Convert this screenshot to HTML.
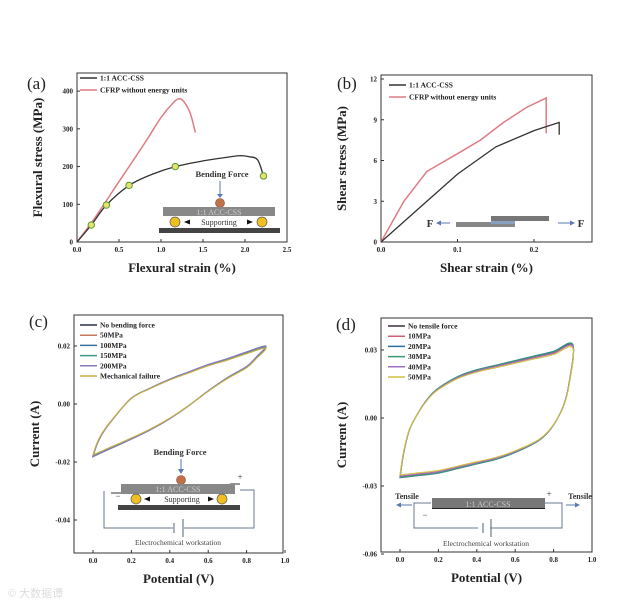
<!DOCTYPE html>
<html><head><meta charset="utf-8"><style>
html,body{margin:0;padding:0;background:#fff;}
svg{display:block;font-family:"Liberation Serif",serif;}
.tk{font-size:7px;font-weight:bold;fill:#222;}
.at{font-size:13px;font-weight:bold;fill:#222;}
.lg{font-size:7.5px;font-weight:bold;fill:#222;}
.pl{font-size:17px;fill:#222;}
</style></head><body>
<svg id="fig" width="623" height="606" viewBox="0 0 623 606">
<text x="8" y="597" font-family="Liberation Sans, Noto Sans CJK SC, sans-serif" font-size="11" fill="#ddd">© 大数据谭</text>
</svg>
<script>
// ---- Panel (a) data ----
const aStrainACC=[0,0.17,0.35,0.62,0.9,1.17,1.5,1.8,1.95,2.05,2.15,2.22];
const aStressACC=[0,45,98,150,180,200,215,225,229,226,218,175];
const aMarkIdx=[1,2,3,5,11];
const aStrainCF=[0,0.2,0.5,0.8,1.0,1.15,1.22,1.28,1.35,1.41];
const aStressCF=[0,60,160,260,330,370,380,370,340,290];
const aXTicks=["0.0","0.5","1.0","1.5","2.0","2.5"];
const aYTicks=["0","100","200","300","400"];
// ---- Panel (b) data ----
const bStrainACC=[0,0.05,0.1,0.15,0.2,0.23,0.233,0.233];
const bStressACC=[0,2.5,5.0,7.0,8.2,8.75,8.8,7.9];
const bStrainCF=[0,0.03,0.06,0.1,0.13,0.16,0.19,0.216,0.216];
const bStressCF=[0,3,5.2,6.5,7.5,8.8,9.9,10.6,8.0];
const bXTicks=["0.0","0.1","0.2"];
const bYTicks=["0","3","6","9","12"];
// ---- Panel (c) data ----
const cPot=[0,0.02,0.05,0.1,0.2,0.3,0.4,0.5,0.6,0.7,0.8,0.9,0.85,0.8,0.7,0.6,0.5,0.4,0.3,0.2,0.1,0.05,0];
const cCur=[-0.018,-0.014,-0.010,-0.0055,0.002,0.0055,0.0085,0.011,0.0135,0.0155,0.0178,0.0198,0.016,0.0128,0.009,0.0045,-0.0005,-0.005,-0.0088,-0.012,-0.015,-0.0165,-0.018];
const cSeries=["No bending force","50MPa","100MPa","150MPa","200MPa","Mechanical failure"];
const cScale=[1.0,0.99,1.01,0.985,1.005,0.975];
const cXTicks=["0.0","0.2","0.4","0.6","0.8","1.0"];
const cYTicks=["-0.04","-0.02","0.00","0.02"];
// ---- Panel (d) data ----
const dPot=[0,0.02,0.05,0.1,0.15,0.2,0.3,0.4,0.5,0.6,0.7,0.8,0.9,0.88,0.85,0.8,0.75,0.7,0.6,0.5,0.4,0.3,0.2,0.1,0];
const dCur=[-0.026,-0.015,-0.005,0.003,0.009,0.013,0.018,0.021,0.023,0.025,0.027,0.029,0.032,0.015,0.005,-0.003,-0.008,-0.011,-0.015,-0.018,-0.020,-0.022,-0.024,-0.025,-0.026];
const dSeries=["No tensile force","10MPa","20MPa","30MPa","40MPa","50MPa"];
const dScale=[1.0,0.985,1.015,1.01,0.99,0.965];
const dXTicks=["0.0","0.2","0.4","0.6","0.8","1.0"];
const dYTicks=["-0.06","-0.03","0.00","0.03"];

const NS="http://www.w3.org/2000/svg";
const svg=document.getElementById('fig');
function mk(tag,at,parent,txt){const e=document.createElementNS(NS,tag);for(const k in at)e.setAttribute(k,at[k]);if(txt!==undefined)e.textContent=txt;(parent||svg).appendChild(e);return e;}
function lin(d0,d1,r0,r1){return v=>r0+(v-d0)/(d1-d0)*(r1-r0);}
function pathOf(xs,ys,sx,sy){return xs.map((x,i)=>(i?'L':'M')+sx(x).toFixed(1)+' '+sy(ys[i]).toFixed(1)).join(' ');}
function smoothOf(xs,ys,sx,sy){
  const P=xs.map((x,i)=>[sx(x),sy(ys[i])]);let d='M'+P[0][0].toFixed(1)+' '+P[0][1].toFixed(1);
  for(let i=0;i<P.length-1;i++){const p0=P[i-1]||P[i],p1=P[i],p2=P[i+1],p3=P[i+2]||P[i+1];
    const c1=[p1[0]+(p2[0]-p0[0])/6,p1[1]+(p2[1]-p0[1])/6],c2=[p2[0]-(p3[0]-p1[0])/6,p2[1]-(p3[1]-p1[1])/6];
    d+=` C${c1[0].toFixed(1)} ${c1[1].toFixed(1)} ${c2[0].toFixed(1)} ${c2[1].toFixed(1)} ${p2[0].toFixed(1)} ${p2[1].toFixed(1)}`;}
  return d;}

function frame(name,L,T,R,B,sx,sy,xt,yt,xlab,ylab,plab,plx,ply){
  const g=mk('g',{});
  
  
  const r=mk('rect',{x:L,y:T,width:R-L,height:B-T,fill:'none',stroke:'#333','stroke-width':1},g);
  
  xt.forEach(t=>{const x=sx(parseFloat(t));mk('line',{x1:x,y1:B,x2:x,y2:B-3,stroke:'#333'},g);
    const e=mk('text',{x:x,y:B+10,'text-anchor':'middle',class:'tk'},g,t);
    });
  yt.forEach(t=>{const y=sy(parseFloat(t));mk('line',{x1:L,y1:y,x2:L+3,y2:y,stroke:'#333'},g);
    const e=mk('text',{x:L-4,y:y+2.5,'text-anchor':'end',class:'tk'},g,t);
    });
  const xl=mk('text',{x:(L+R)/2,y:B+30,'text-anchor':'middle',class:'at'},g,xlab);
  
  const cx=L-35,cy=(T+B)/2;
  const yl=mk('text',{x:cx,y:cy,'text-anchor':'middle',class:'at',transform:`rotate(-90 ${cx} ${cy})`},g,ylab);
  
  const p=mk('text',{x:plx,y:ply,class:'pl'},g,plab);
  
  return g;
}
function legend(g,x,y,dy,items,colors){
  items.forEach((s,i)=>{const yy=y+i*dy;
    mk('line',{x1:x,y1:yy,x2:x+17,y2:yy,stroke:colors[i],'stroke-width':1.5},g);
    const t=mk('text',{x:x+20,y:yy+2.5,class:'lg'},g,s);
    });
}
function txt(g,x,y,s,sz,fill,bold,name){const t=mk('text',{x:x,y:y,'text-anchor':'middle','font-size':sz,fill:fill,'font-weight':bold?'bold':'normal'},g,s);
  return t;}
const BLK='#333',RED='#e07a82',BLUE='#5a7ab0';

// ---- (a) ----
{const L=77,T=73,R=287,B=242;const sx=lin(0,2.5,L,R),sy=lin(0,448,B,T);
 const g=frame('panel-a-flexural',L,T,R,B,sx,sy,aXTicks,aYTicks,'Flexural strain (%)','Flexural stress (MPa)','(a)',27,89);
 const l1=mk('path',{d:smoothOf(aStrainCF,aStressCF,sx,sy),fill:'none',stroke:RED,'stroke-width':1.5},g);
 
 const l2=mk('path',{d:smoothOf(aStrainACC,aStressACC,sx,sy),fill:'none',stroke:BLK,'stroke-width':1.3},g);
 
 aMarkIdx.forEach(i=>{const c=mk('circle',{cx:sx(aStrainACC[i]),cy:sy(aStressACC[i]),r:3.2,fill:'#e8e070',stroke:'#5a9a30','stroke-width':1},g);
   });
 legend(g,80,78,12,['1:1 ACC-CSS','CFRP without energy units'],[BLK,RED]);
 txt(g,222,177,'Bending Force',8.5,'#333',true,'bending-force-label');
 mk('line',{x1:220,y1:181,x2:220,y2:195,stroke:BLUE,'stroke-width':1},g);
 mk('path',{d:'M217 194 L223 194 L220 198 Z',fill:BLUE},g);
 mk('circle',{cx:220,cy:203,r:4.5,fill:'#c0704a',stroke:'#8a4a30','stroke-width':.6},g);
 mk('rect',{x:163,y:207,width:112,height:9,fill:'#888'},g);
 txt(g,219,215,'1:1 ACC-CSS',8,'#ccc',false,'specimen-label');
 mk('circle',{cx:175,cy:222,r:5,fill:'#f0c020',stroke:'#555','stroke-width':.7},g);
 mk('circle',{cx:262,cy:222,r:5,fill:'#f0c020',stroke:'#555','stroke-width':.7},g);
 txt(g,219,225,'Supporting',8,'#333',false,'supporting-label');
 mk('path',{d:'M184 222 L190 219.5 L190 224.5 Z M253 222 L247 219.5 L247 224.5 Z',fill:'#111'},g);
 mk('rect',{x:159,y:228,width:121,height:5,fill:'#444'},g);
}
// ---- (b) ----
{const L=381,T=75,R=592,B=242;const sx=lin(0,0.2,L,534),sy=lin(0,12,B,79);
 const g=frame('panel-b-shear',L,T,R,B,sx,sy,bXTicks,bYTicks,'Shear strain (%)','Shear stress (MPa)','(b)',337,89);
 const l1=mk('path',{d:pathOf(bStrainCF,bStressCF,sx,sy),fill:'none',stroke:RED,'stroke-width':1.5},g);
 
 const l2=mk('path',{d:pathOf(bStrainACC,bStressACC,sx,sy),fill:'none',stroke:BLK,'stroke-width':1.3},g);
 
 legend(g,389,85,12,['1:1 ACC-CSS','CFRP without energy units'],[BLK,RED]);
 mk('rect',{x:491,y:216,width:58,height:5,fill:'#777'},g);
 mk('rect',{x:456,y:222,width:59,height:5,fill:'#888'},g);
 mk('rect',{x:491,y:221,width:24,height:3,fill:'#8aa0c0'},g);
 txt(g,430,227,'F',11,'#333',true,'force-left-label');
 txt(g,581,227,'F',11,'#333',true,'force-right-label');
 mk('line',{x1:438,y1:223,x2:450,y2:223,stroke:BLUE},g);
 mk('path',{d:'M436 223 L441 220.5 L441 225.5 Z M575 223 L570 220.5 L570 225.5 Z',fill:BLUE},g);
 mk('line',{x1:558,y1:223,x2:571,y2:223,stroke:BLUE},g);
}
// ---- (c) ----
const cColors=['#2b2f4a','#c87a5a','#3a6fa0','#3a9a80','#8a78c0','#c8b040'];
{const L=74,T=315,R=283,B=553;const sx=lin(0,1,93,285),sy=lin(0,0.02,404,346);
 const g=frame('panel-c-cv-bending',L,T,R,B,sx,sy,cXTicks,cYTicks,'Potential (V)','Current (A)','(c)',29,327);
 cSeries.forEach((s,k)=>{const ys=cCur.map(v=>v*cScale[k]);
   const p=mk('path',{d:smoothOf(cPot,ys,sx,sy)+'Z',fill:'none',stroke:cColors[k],'stroke-width':1.1},g);
   });
 legend(g,80,325,10.2,cSeries,cColors);
 txt(g,180,455,'Bending Force',8.5,'#333',true,'bending-force-label');
 mk('line',{x1:181,y1:459,x2:181,y2:470,stroke:BLUE},g);
 mk('path',{d:'M178 469 L184 469 L181 474 Z',fill:BLUE},g);
 mk('circle',{cx:181,cy:480,r:4.5,fill:'#c0704a',stroke:'#8a4a30','stroke-width':.6},g);
 mk('path',{d:'M104 491 L104 528 L173 528 M184 528 L254 528 L254 490 L240 490',fill:'none',stroke:'#6a7a90','stroke-width':1},g);
 mk('line',{x1:111,y1:493,x2:122,y2:493,stroke:'#333'},g);
 mk('line',{x1:230,y1:484,x2:240,y2:484,stroke:'#333'},g);
 mk('rect',{x:121,y:484,width:114,height:10,fill:'#888'},g);
 txt(g,178,492,'1:1 ACC-CSS',8,'#ccc',false,'specimen-label');
 txt(g,240,480,'+',9,'#333',false,'plus-terminal');
 txt(g,118,499,'−',9,'#333',false,'minus-terminal');
 mk('circle',{cx:136,cy:499,r:5,fill:'#f0c020',stroke:'#555','stroke-width':.7},g);
 mk('circle',{cx:222,cy:499,r:5,fill:'#f0c020',stroke:'#555','stroke-width':.7},g);
 txt(g,182,502,'Supporting',8,'#333',false,'supporting-label');
 mk('path',{d:'M144 499 L150 496.5 L150 501.5 Z M214 499 L208 496.5 L208 501.5 Z',fill:'#111'},g);
 mk('rect',{x:118,y:505,width:122,height:5,fill:'#444'},g);
 mk('line',{x1:174,y1:523,x2:174,y2:533,stroke:'#6a7a90','stroke-width':1.2},g);
 mk('line',{x1:183,y1:519,x2:183,y2:537,stroke:'#6a7a90','stroke-width':1.2},g);
 txt(g,178,545,'Electrochemical  workstation',7.5,'#444',false,'workstation-label');
}
// ---- (d) ----
const dColors=['#3a2f3a','#d06070','#2a6fa0','#3a9a70','#a070c0','#d0c040'];
{const L=381,T=318,R=592,B=552;const sx=lin(0,1,400,592),sy=lin(0,0.03,418,350);
 const g=frame('panel-d-cv-tensile',L,T,R,B,sx,sy,dXTicks,dYTicks,'Potential (V)','Current (A)','(d)',336,330);
 dSeries.forEach((s,k)=>{const ys=dCur.map(v=>v*dScale[k]);
   const p=mk('path',{d:smoothOf(dPot,ys,sx,sy)+'Z',fill:'none',stroke:dColors[k],'stroke-width':1.1},g);
   });
 legend(g,388,326,10.2,dSeries,dColors);
 txt(g,407,499,'Tensile',8,'#333',true,'tensile-left-label');
 txt(g,580,499,'Tensile',8,'#333',true,'tensile-right-label');
 mk('line',{x1:398,y1:505,x2:412,y2:505,stroke:BLUE},g);
 mk('path',{d:'M396 505 L401 502.5 L401 507.5 Z M580 505 L575 502.5 L575 507.5 Z',fill:BLUE},g);
 mk('line',{x1:566,y1:505,x2:576,y2:505,stroke:BLUE},g);
 mk('path',{d:'M431 503 L414 503 L414 528 L478 528 M490 528 L562 528 L562 503 L545 503',fill:'none',stroke:'#6a7a90','stroke-width':1},g);
 mk('rect',{x:432,y:498,width:113,height:11,fill:'#777'},g);
 mk('line',{x1:432,y1:508.5,x2:545,y2:508.5,stroke:'#222','stroke-width':1},g);
 txt(g,488,507,'1:1 ACC-CSS',8,'#ccc',false,'specimen-label');
 txt(g,549,497,'+',9,'#333',false,'plus-terminal');
 txt(g,425,518,'−',9,'#333',false,'minus-terminal');
 mk('line',{x1:483,y1:523,x2:483,y2:533,stroke:'#6a7a90','stroke-width':1.2},g);
 mk('line',{x1:491,y1:519,x2:491,y2:537,stroke:'#6a7a90','stroke-width':1.2},g);
 txt(g,486,546,'Electrochemical  workstation',7.5,'#444',false,'workstation-label');
}
</script>
</body></html>
